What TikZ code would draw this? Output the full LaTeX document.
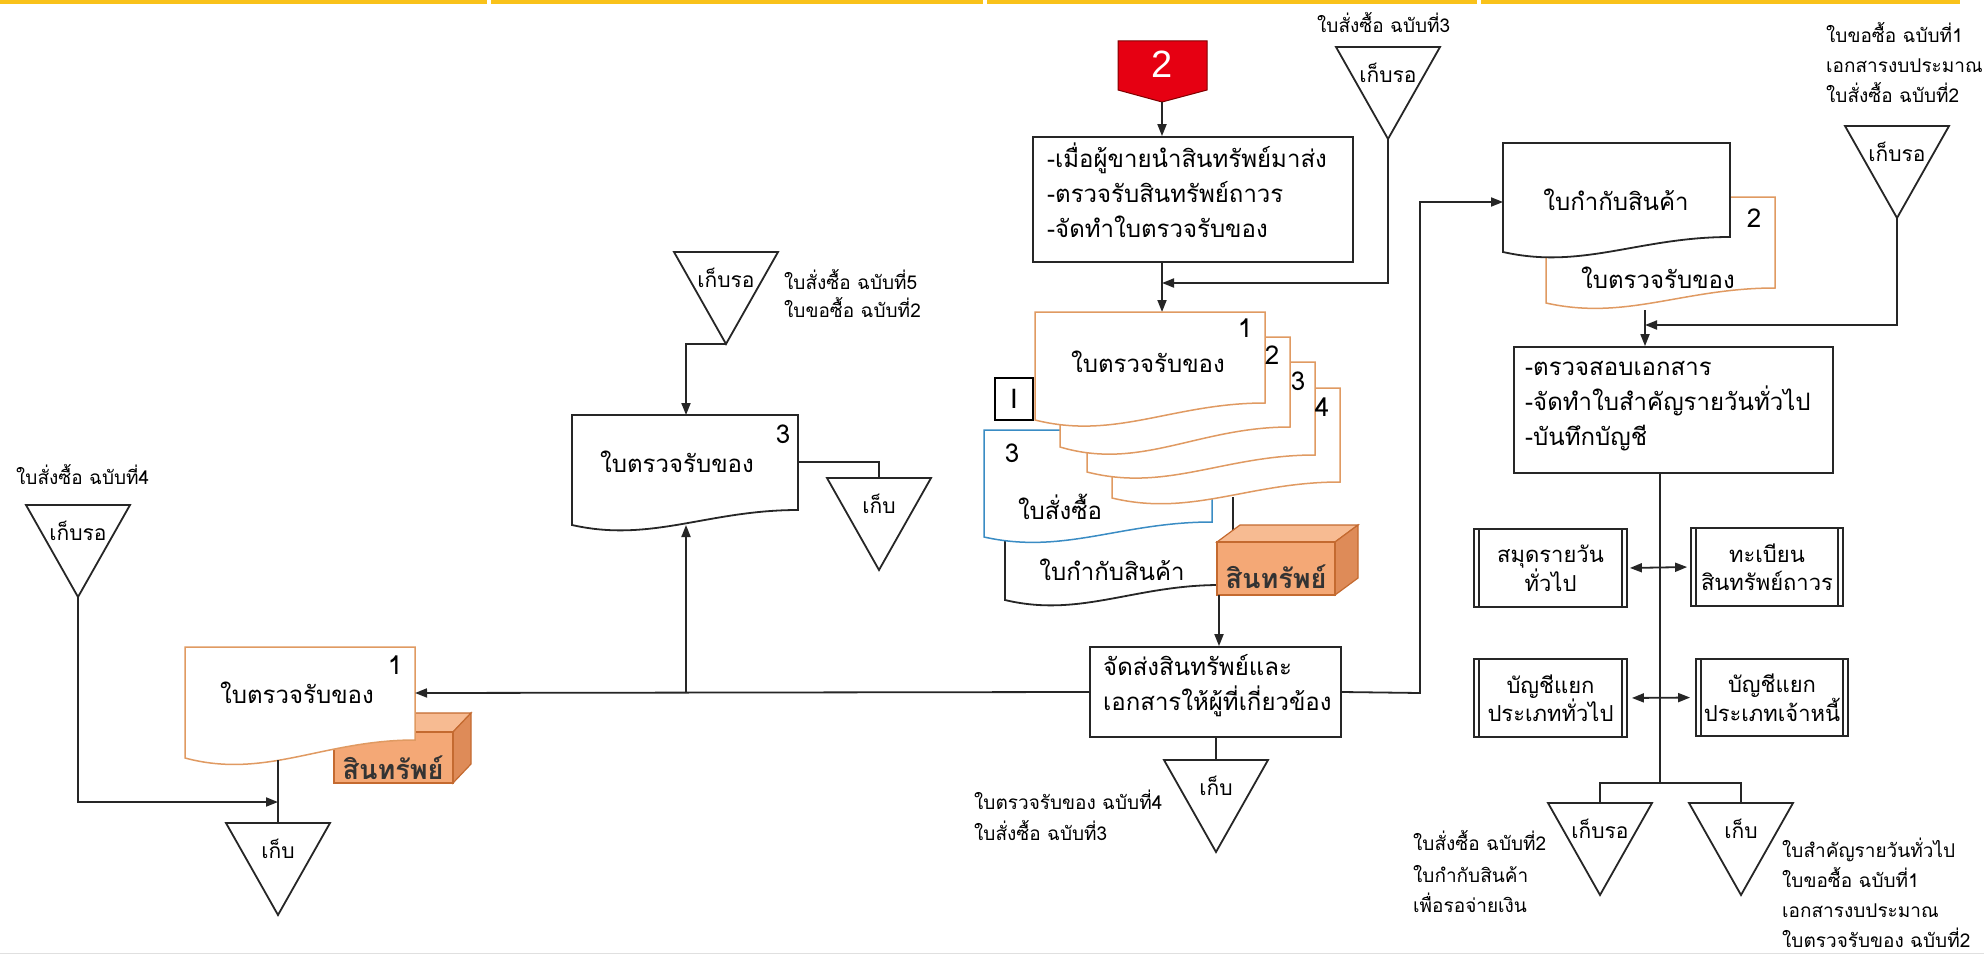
\documentclass[tikz,border=0pt]{standalone}
\usepackage{fontspec}
\newfontfamily\thai[Script=Thai]{Loma}
\newfontfamily\latsans{Liberation Sans}
\usetikzlibrary{arrows.meta}

\definecolor{docorange}{HTML}{E09A62}
\definecolor{docblue}{HTML}{3A8CC4}
\definecolor{boxfront}{HTML}{F4A876}
\definecolor{boxtop}{HTML}{F7BB92}
\definecolor{boxside}{HTML}{DE8B58}
\definecolor{boxedge}{HTML}{C46A30}
\definecolor{barcol}{HTML}{F9C21A}
\definecolor{startred}{HTML}{E60012}

% document symbol: rectangle with a wavy lower edge
% #1 style, #2 left x, #3 top y, #4 right x, #5 lower-left y, #6 rise of the right end
\newcommand\wdoc[6]{%
  \path[#1] (#2,#3) -- (#4,#3) -- (#4,{#5-#6})
    .. controls ({#2+0.6*(#4-#2)},{#5-#6}) and ({#2+0.35*(#4-#2)},{#5+1.2*#6}) .. (#2,#5) -- cycle;}

% storage triangle (file): #1 name, #2 centre x, #3 top y, #4 label
\newcommand\filetri[4]{%
  \draw[ln, fill=white] ({#2-52},#3) -- ({#2+52},#3) -- (#2,{#3+92}) -- cycle;
  \coordinate (#1-top) at (#2,#3);
  \coordinate (#1-tip) at (#2,{#3+92});
  \node[trilabel] (#1) at (#2,{#3+26}) {#4};}

% asset box drawn as a cube: #1 x1, #2 y1, #3 x2, #4 y2 (front face), #5 dx, #6 dy
\newcommand\assetcube[6]{%
  \filldraw[draw=boxedge, line width=1.2pt, fill=boxtop] (#1,#2) -- (#3,#2) -- ({#3+#5},{#2-#6}) -- ({#1+#5},{#2-#6}) -- cycle;
  \filldraw[draw=boxedge, line width=1.2pt, fill=boxside] (#3,#2) -- ({#3+#5},{#2-#6}) -- ({#3+#5},{#4-#6}) -- (#3,#4) -- cycle;
  \filldraw[draw=boxedge, line width=1.2pt, fill=boxfront] (#1,#2) rectangle (#3,#4);}

\begin{document}
\begin{tikzpicture}[x=1pt,y=-1pt,
  ln/.style={line width=1.8pt, draw=black!85},
  arr/.style={ln, -{Triangle[length=12pt,width=9pt]}},
  darr/.style={ln, {Triangle[length=12pt,width=9pt]}-{Triangle[length=12pt,width=9pt]}},
  proc/.style={ln, fill=white, rectangle, inner sep=0pt},
  body/.style={font=\thai\fontsize{24}{28}\selectfont, inner sep=0pt},
  ledger/.style={proc, font=\thai\fontsize{22}{28}\selectfont, align=center},
  trilabel/.style={font=\thai\fontsize{21}{24}\selectfont, inner sep=0pt},
  note/.style={font=\thai\fontsize{19}{24}\selectfont, inner sep=0pt, anchor=mid west},
  num/.style={font=\thai\fontsize{26}{28}\selectfont, inner sep=0pt},
  asset/.style={font=\thai\bfseries\fontsize{27}{28}\selectfont, inner sep=0pt, text=black!80},
  blk/.style={ln, fill=white},
  org/.style={draw=docorange, line width=1.5pt, fill=white},
  blu/.style={draw=docblue, line width=1.5pt, fill=white},
]
\fill[white] (0,0) rectangle (1984,955);
\useasboundingbox (0,0) rectangle (1984,955);

% header rule and bottom edge
\foreach \a/\b in {0/487,491/983,987/1477,1481/1960}
  \draw[barcol, line width=4pt] (\a,2) -- (\b,2);
\draw[black!12, line width=1pt] (0,953) -- (1984,953);

% ---------------- start marker and first process ----------------
\path[fill=startred, draw=red!50!black, line width=1pt]
  (1118,41) -- (1207,41) -- (1207,90) -- (1162,102) -- (1118,90) -- cycle;
\node[font=\latsans\fontsize{38}{38}\selectfont, text=white, inner sep=0pt] (start) at (1162,64) {2};
\coordinate (startTip) at (1162,102);

\node[proc, minimum width=320pt, minimum height=125pt] (p1) at (1193,199.5) {};
\node[body, anchor=mid west] (p1a) at (1047,165) {-เมื่อผู้ขายนำสินทรัพย์มาส่ง};
\node[body, anchor=mid west] (p1b) at (1047,200) {-ตรวจรับสินทรัพย์ถาวร};
\node[body, anchor=mid west] (p1c) at (1047,235) {-จัดทำใบตรวจรับของ};

\node[note] (n3a) at (1317,30) {ใบสั่งซื้อ ฉบับที่3};
\filetri{t5}{1388}{47}{เก็บรอ}

\draw[arr] (startTip) -- (p1.north -| startTip);
\coordinate (d1top) at (1162,312);
\draw[arr] (p1.south -| startTip) -- (d1top);
\coordinate (j5) at (1162,283);
\draw[arr] (t5-tip) |- (j5);

% ---------------- bundle of copies ----------------
% invoice copy lying behind: only its left edge and wavy foot show
\fill[white] (1005,460) rectangle (1220,600);
\draw[ln] (1005,460) -- (1005,600)
  .. controls (1080,618) and (1134,585) .. (1220,585);
\node[body] (inv1) at (1112,570) {ใบกำกับสินค้า};
\wdoc{blu}{984}{430}{1212}{537}{15}
\node[num] (po3) at (1012,453) {3};
\node[body] (po1) at (1060,507) {ใบสั่งซื้อ};
\wdoc{org}{1112}{388}{1340}{498}{16}
\wdoc{org}{1087}{362}{1315}{472}{17}
\wdoc{org}{1060}{337}{1290}{447}{20}
\wdoc{org}{1035}{312}{1265}{420}{17}
\node[body] (rc1) at (1148,362) {ใบตรวจรับของ};
\node[num] (c1) at (1245,328) {1};
\node[num] (c2) at (1272,355) {2};
\node[num] (c3) at (1298,381) {3};
\node[num] (c4) at (1322,407) {4};
\node[draw, line width=1.5pt, fill=white, minimum width=38pt, minimum height=42pt, inner sep=0pt,
      font=\latsans\fontsize{28}{28}\selectfont] (rom) at (1014,399) {I};

\coordinate (d4bot) at (1233,497);
\coordinate (cubeTop) at (1233,535);
\draw[ln] (d4bot) -- (cubeTop);
\assetcube{1217}{542}{1335}{595}{23}{17}
\node[asset] (as2) at (1276,577) {สินทรัพย์};
\coordinate (cubeBot) at (1219,595);

% ---------------- distribution ----------------
\node[proc, minimum width=251pt, minimum height=90pt] (send) at (1215.5,692) {};
\node[body, anchor=mid west] (senda) at (1103,673) {จัดส่งสินทรัพย์และ};
\node[body, anchor=mid west] (sendb) at (1103,708) {เอกสารให้ผู้ที่เกี่ยวข้อง};
\draw[arr] (cubeBot) -- (send.north -| cubeBot);

\filetri{t6}{1216}{760}{เก็บ}
\draw[ln] (send.south -| t6-top) -- (t6-top);
\node[note] (n6a) at (974,807) {ใบตรวจรับของ ฉบับที่4};
\node[note] (n6b) at (974,838) {ใบสั่งซื้อ ฉบับที่3};

% ---------------- left side copies ----------------
\filetri{t3}{726}{252}{เก็บรอ}
\node[note] (n5a) at (784,287) {ใบสั่งซื้อ ฉบับที่5};
\node[note] (n5b) at (784,315) {ใบขอซื้อ ฉบับที่2};
\wdoc{blk}{572}{415}{798}{525}{15}
\node[body] (rc3) at (677,462) {ใบตรวจรับของ};
\node[num] (rc3n) at (783,434) {3};
\coordinate (d3top) at (686,415);
\coordinate (d3bot) at (686,525);
\coordinate (d3R) at (798,462);
\draw[arr] (t3-tip) -| (d3top);
\filetri{t4}{879}{478}{เก็บ}
\draw[ln] (d3R) -| (t4-top);

\assetcube{334}{732}{453}{783}{18}{19}
\node[asset] (as1) at (393,768) {สินทรัพย์};
\wdoc{org}{185}{647}{415}{758}{18}
\node[body] (rc1l) at (297,693) {ใบตรวจรับของ};
\node[num] (rc1n) at (395,665) {1};
\coordinate (ld1R) at (415,693);
\coordinate (ld1bot) at (278,760);

\node[note] (n4a) at (16,482) {ใบสั่งซื้อ ฉบับที่4};
\filetri{t1}{78}{505}{เก็บรอ}
\filetri{t2}{278}{823}{เก็บ}
\draw[ln] (ld1bot) -- (t2-top);
\coordinate (j1) at (278,802);
\draw[arr] (t1-tip) |- (j1);

\coordinate (br) at (686,693);
\draw[arr] (send.west) -- (ld1R);
\draw[arr] (br) -- (d3bot);

% ---------------- accounting side ----------------
\wdoc{org}{1546}{197}{1775}{303}{15}
\node[num] (r2n) at (1754,218) {2};
\node[body] (r2t) at (1658,278) {ใบตรวจรับของ};
\wdoc{blk}{1503}{143}{1730}{252}{15}
\node[body] (ivt) at (1616,200) {ใบกำกับสินค้า};
\coordinate (ivL) at (1503,202);
\coordinate (hop) at (1420,693);
\draw[arr] (send.east) -- (hop) |- (ivL);

\node[note] (n7a) at (1826,40) {ใบขอซื้อ ฉบับที่1};
\node[note] (n7b) at (1826,70) {เอกสารงบประมาณ};
\node[note] (n7c) at (1826,100) {ใบสั่งซื้อ ฉบับที่2};
\filetri{t7}{1897}{126}{เก็บรอ}

\node[proc, minimum width=319pt, minimum height=126pt] (p2) at (1673.5,410) {};
\node[body, anchor=mid west] (p2a) at (1525,373) {-ตรวจสอบเอกสาร};
\node[body, anchor=mid west] (p2b) at (1525,408) {-จัดทำใบสำคัญรายวันทั่วไป};
\node[body, anchor=mid west] (p2c) at (1525,443) {-บันทึกบัญชี};
\coordinate (r2bot) at (1645,310);
\coordinate (j7) at (1645,325);
\draw[arr] (r2bot) -- (p2.north -| r2bot);
\draw[arr] (t7-tip) |- (j7);

% ledgers and registers
\node[ledger, minimum width=153pt, minimum height=78pt] (jr) at (1550.5,568) {สมุดรายวัน\\ทั่วไป};
\node[ledger, minimum width=152pt, minimum height=78pt] (fa) at (1767,567) {ทะเบียน\\สินทรัพย์ถาวร};
\node[ledger, minimum width=153pt, minimum height=78pt] (gl) at (1550.5,698) {บัญชีแยก\\ประเภททั่วไป};
\node[ledger, minimum width=152pt, minimum height=77pt] (ap) at (1772,697.5) {บัญชีแยก\\ประเภทเจ้าหนี้};
\foreach \b in {jr,fa,gl,ap} {
  \draw[ln] ([xshift=6pt]\b.north west) -- ([xshift=6pt]\b.south west);
  \draw[ln] ([xshift=-6pt]\b.north east) -- ([xshift=-6pt]\b.south east);
}
\coordinate (spine) at (1660,783);
\draw[ln] (p2.south -| spine) -- (spine);
\draw[darr, shorten <=2pt, shorten >=3pt] (jr.east) -- (fa.west);
\draw[darr, shorten <=4pt, shorten >=5pt] (gl.east) -- (ap.west);

\filetri{t8}{1600}{803}{เก็บรอ}
\filetri{t9}{1741}{803}{เก็บ}
\draw[ln] (t8-top) -- ++(0,-20) -| (t9-top);

\node[note] (n8a) at (1413,848) {ใบสั่งซื้อ ฉบับที่2};
\node[note] (n8b) at (1413,880) {ใบกำกับสินค้า};
\node[note] (n8c) at (1413,910) {เพื่อรอจ่ายเงิน};
\node[note] (n9a) at (1782,855) {ใบสำคัญรายวันทั่วไป};
\node[note] (n9b) at (1782,885) {ใบขอซื้อ ฉบับที่1};
\node[note] (n9c) at (1782,915) {เอกสารงบประมาณ};
\node[note] (n9d) at (1782,945) {ใบตรวจรับของ ฉบับที่2};
\end{tikzpicture}
\end{document}
